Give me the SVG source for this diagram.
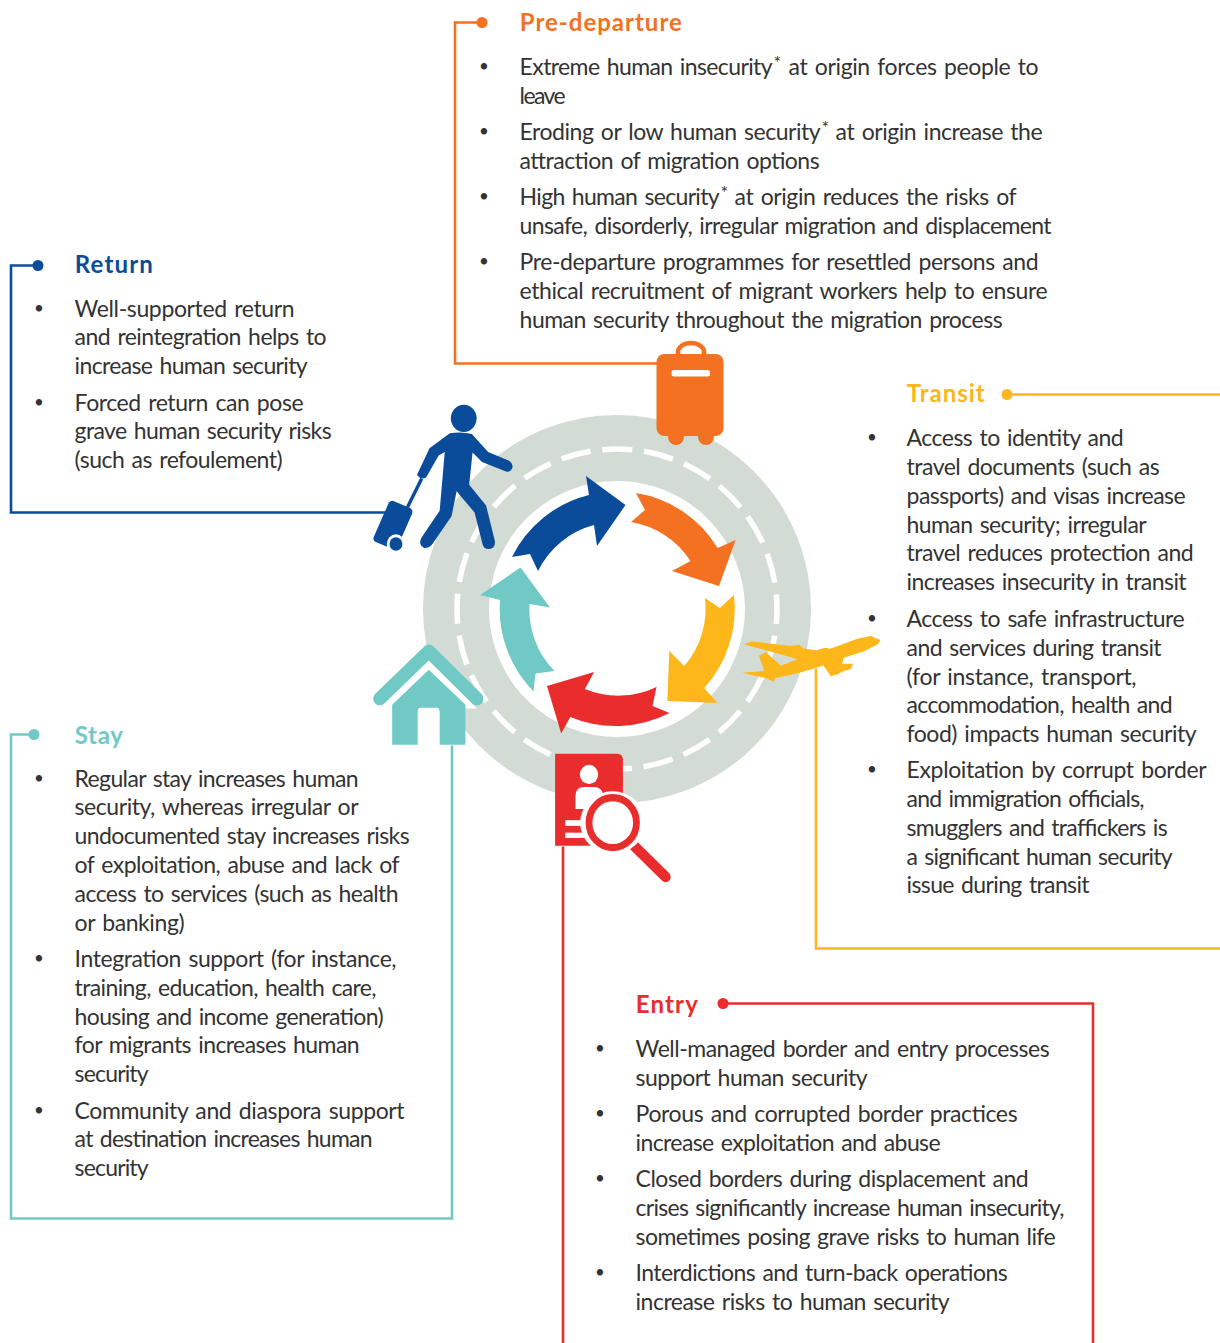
<svg xmlns="http://www.w3.org/2000/svg" width="1220" height="1343" viewBox="0 0 1220 1343">
<style>
text{font-family:"Lato","Open Sans","Liberation Sans",sans-serif;font-size:23px;fill:#333;word-spacing:2px;transform:translate(-.4px,-.4px)}
.t{font-size:24px;font-weight:700;word-spacing:0;transform:translate(-.2px,.8px)}
.s{font-size:18px;word-spacing:0;transform:translate(-.6px,2px)}
.b{font-size:17px;word-spacing:0;transform:none}
.c{fill:none;stroke-width:2.6}
.or{fill:#f47121}.ye{fill:#fdb71a}.re{fill:#e92d2c}.te{fill:#70c9c5}.bl{fill:#0a4c9a}
.sor{stroke:#f47121}.sye{stroke:#fdb71a}.sre{stroke:#e92d2c}.ste{stroke:#70c9c5}.sbl{stroke:#0a4c9a}
</style>
<rect width="1220" height="1343" fill="#fff"/>
<g id="ring">
<circle cx="617" cy="609" r="161" fill="none" stroke="#d3dcd4" stroke-width="66"/>
<circle cx="617" cy="609" r="160" fill="none" stroke="#fff" stroke-width="5.5" stroke-dasharray="30 11.888" stroke-dashoffset="15"/>
</g>
<g id="connectors" transform="translate(0 .5)">
<path class="c sor" d="M482 22H455V363H660"/>
<path class="c sbl" d="M38 265H11V512H385"/>
<path class="c sye" d="M1007 394H1220M816 668V948H1220"/>
<path class="c ste" d="M34 734H11V1218H452V745"/>
<path class="c sre" d="M723 1003H1093V1343M563 846V1343"/>
</g>
<g id="arrows">
<path class="bl" d="M625.500 505L586 476L589 495A117 117 0 0 0 512 557L530 554L538 571A87 87 0 0 1 594 525L597 546Z"/>
<path class="or" d="M636 493L645 510L631 522A88 88 0 0 1 690.5 561L672 571L719 586L735.600 540L717.600 548A117 117 0 0 0 636 493Z"/>
<path class="ye" d="M705 598L719.800 608L734 595A118 118 0 0 1 704.200 688L717.500 703L667.300 701L669.300 651L684.200 666A88 88 0 0 0 705 598Z"/>
<path class="re" d="M669.500 713L652.500 706L656.500 687A88 88 0 0 1 584.900 689L594.100 672L547 686L561.200 733.600L570.300 717A118 118 0 0 0 669.500 713Z"/>
<path class="te" d="M520.500 567.500L480 595L500 600A118 118 0 0 0 533.500 691.400L535.500 673.600L554.500 671A88 88 0 0 1 529.500 604L550 607.500Z"/>
</g>
<g id="pre-departure">
<circle class="or" cx="482" cy="22.500" r="5.5"/>
<g id="suitcase">
<path d="M678 356V352A13 9 0 0 1 704 352V356" fill="none" stroke="#f47121" stroke-width="4.5"/>
<circle class="or" cx="676" cy="437" r="8"/><circle class="or" cx="706" cy="437" r="8"/>
<rect class="or" x="656.500" y="354" width="67" height="82" rx="8"/>
<rect x="671.500" y="370" width="38.500" height="6.500" rx="2.500" fill="#fff"/>
</g>
<text class="t" x="520" y="30" textLength="162" style="fill:#f47121">Pre-departure</text>
<text class="b" x="479" y="72">•</text><text class="b" x="479" y="137">•</text><text class="b" x="479" y="202">•</text><text class="b" x="479" y="267">•</text>
<text x="520" y="75" textLength="253">Extreme human insecurity</text><text class="s" x="774" y="67">*</text><text x="789" y="75" textLength="250">at origin forces people to</text>
<text x="520" y="104" textLength="46">leave</text>
<text x="520" y="140" textLength="301">Eroding or low human security</text><text class="s" x="822" y="132">*</text><text x="836" y="140" textLength="207">at origin increase the</text>
<text x="520" y="169" textLength="300">attraction of migration options</text>
<text x="520" y="205" textLength="200">High human security</text><text class="s" x="721" y="197">*</text><text x="735" y="205" textLength="282">at origin reduces the risks of</text>
<text x="520" y="234" textLength="532">unsafe, disorderly, irregular migration and displacement</text>
<text x="520" y="270" textLength="519">Pre-departure programmes for resettled persons and</text>
<text x="520" y="299" textLength="528">ethical recruitment of migrant workers help to ensure</text>
<text x="520" y="328" textLength="483">human security throughout the migration process</text>
</g>
<g id="return">
<circle class="bl" cx="38" cy="265.500" r="5.500"/>
<g id="traveller" transform="translate(360 330.500) scale(.339 .357)">
<circle class="bl" cx="306" cy="246" r="38"/>
<path class="bl" d="M265 288Q300 282 330 290L378 340L440 365Q455 375 448 388Q440 400 425 393L360 368L332 342L322 432L372 490L398 590Q400 610 380 612Q365 612 362 600L338 510L285 450L270 520L212 600Q195 618 180 602Q173 590 185 575L235 505L250 340L232 350L195 412Q180 420 168 405L205 330Z"/>
<path d="M182 415L140 495" fill="none" stroke="#0a4c9a" stroke-width="10"/>
<path class="bl" d="M85 482Q92 475 100 478L148 497Q158 503 153 515L118 590L78 605L45 592Q37 587 41 578Z"/>
<circle cx="106" cy="598" r="27" fill="#fff"/><circle class="bl" cx="106" cy="598" r="19"/>
</g>
<text class="t" x="75" y="272" textLength="78" style="fill:#0a4c9a">Return</text>
<text class="b" x="34" y="314">•</text><text class="b" x="34" y="408">•</text>
<text x="75" y="317" textLength="220">Well-supported return</text>
<text x="75" y="345" textLength="252">and reintegration helps to</text>
<text x="75" y="374" textLength="233">increase human security</text>
<text x="75" y="411" textLength="229">Forced return can pose</text>
<text x="75" y="439" textLength="257">grave human security risks</text>
<text x="75" y="468" textLength="208">(such as refoulement)</text>
</g>
<g id="transit">
<circle class="ye" cx="1007" cy="394.500" r="5.500"/>
<g id="plane" transform="translate(359 330) scale(.339 .357)">
<path class="ye" d="M1538 868L1530 880L1490 900L1430 918L1425 935L1458 935L1450 950L1430 955L1410 965L1392 970L1370 940L1300 960L1230 975L1222 985L1200 975L1130 960L1195 955L1180 912L1200 903L1245 940L1295 922L1135 880L1160 872L1270 885L1300 882L1310 892L1350 897L1375 890L1390 893L1470 865L1510 857Z"/>
</g>
<text class="t" x="907" y="401" textLength="78" style="fill:#fdb71a">Transit</text>
<text class="b" x="867" y="443">•</text><text class="b" x="867" y="624">•</text><text class="b" x="867" y="775">•</text>
<text x="907" y="446" textLength="217">Access to identity and</text>
<text x="907" y="475" textLength="253">travel documents (such as</text>
<text x="907" y="504" textLength="279">passports) and visas increase</text>
<text x="907" y="533" textLength="240">human security; irregular</text>
<text x="907" y="561" textLength="287">travel reduces protection and</text>
<text x="907" y="590" textLength="280">increases insecurity in transit</text>
<text x="907" y="627" textLength="278">Access to safe infrastructure</text>
<text x="907" y="656" textLength="255">and services during transit</text>
<text x="907" y="685" textLength="230">(for instance, transport,</text>
<text x="907" y="713" textLength="266">accommodation, health and</text>
<text x="907" y="742" textLength="290">food) impacts human security</text>
<text x="907" y="778" textLength="300">Exploitation by corrupt border</text>
<text x="907" y="807" textLength="238">and immigration officials,</text>
<text x="907" y="836" textLength="261">smugglers and traffickers is</text>
<text x="907" y="865" textLength="266">a significant human security</text>
<text x="907" y="893" textLength="183">issue during transit</text>
</g>
<g id="stay">
<circle class="te" cx="34" cy="734.500" r="5.500"/>
<g id="house" transform="translate(360 330) scale(.339 .357)">
<path d="M60 1060L203 925L345 1060Z" fill="#fff"/>
<path d="M58 1033L203 900L345 1033" fill="none" stroke="#70c9c5" stroke-width="38" stroke-linecap="round" stroke-linejoin="round"/>
<path class="te" d="M95 1050L203 952L311 1050V1162H235V1070Q235 1058 225 1058H180Q170 1058 170 1070V1162H95Z"/>
</g>
<text class="t" x="75" y="743" textLength="48" style="fill:#70c9c5">Stay</text>
<text class="b" x="34" y="784">•</text><text class="b" x="34" y="964">•</text><text class="b" x="34" y="1116">•</text>
<text x="75" y="787" textLength="284">Regular stay increases human</text>
<text x="75" y="815" textLength="284">security, whereas irregular or</text>
<text x="75" y="844" textLength="335">undocumented stay increases risks</text>
<text x="75" y="873" textLength="325">of exploitation, abuse and lack of</text>
<text x="75" y="902" textLength="324">access to services (such as health</text>
<text x="75" y="931" textLength="110">or banking)</text>
<text x="75" y="967" textLength="322">Integration support (for instance,</text>
<text x="75" y="996" textLength="302">training, education, health care,</text>
<text x="75" y="1025" textLength="309">housing and income generation)</text>
<text x="75" y="1053" textLength="285">for migrants increases human</text>
<text x="75" y="1082" textLength="74">security</text>
<text x="75" y="1119" textLength="330">Community and diaspora support</text>
<text x="75" y="1147" textLength="298">at destination increases human</text>
<text x="75" y="1176" textLength="74">security</text>
</g>
<g id="entry">
<circle class="re" cx="723" cy="1003.500" r="5.500"/>
<g id="passport" transform="translate(359.500 330) scale(.339 .357)">
<path class="re" d="M577 1187H760Q777 1187 777 1204V1445H577Z"/>
<circle cx="677" cy="1245" r="27" fill="#fff"/>
<path d="M637 1342V1305Q637 1282 660 1280H695Q715 1282 718 1300L690 1342Z" fill="#fff"/>
<rect x="607" y="1373" width="60" height="16" fill="#fff"/><rect x="607" y="1408" width="70" height="15" fill="#fff"/>
<path d="M810 1445L903 1532" fill="none" stroke="#e92d2c" stroke-width="30" stroke-linecap="round"/>
<ellipse cx="747" cy="1380" rx="96" ry="88" fill="#fff"/>
<circle cx="747" cy="1380" r="70" fill="#fff" stroke="#e92d2c" stroke-width="20"/>
</g>
<text class="t" x="636" y="1012" textLength="62" style="fill:#e92d2c">Entry</text>
<text class="b" x="595" y="1054">•</text><text class="b" x="595" y="1119">•</text><text class="b" x="595" y="1184">•</text><text class="b" x="595" y="1278">•</text>
<text x="636" y="1057" textLength="414">Well-managed border and entry processes</text>
<text x="636" y="1086" textLength="232">support human security</text>
<text x="636" y="1122" textLength="382">Porous and corrupted border practices</text>
<text x="636" y="1151" textLength="305">increase exploitation and abuse</text>
<text x="636" y="1187" textLength="393">Closed borders during displacement and</text>
<text x="636" y="1216" textLength="429">crises significantly increase human insecurity,</text>
<text x="636" y="1245" textLength="420">sometimes posing grave risks to human life</text>
<text x="636" y="1281" textLength="372">Interdictions and turn-back operations</text>
<text x="636" y="1310" textLength="314">increase risks to human security</text>
</g>
</svg>
